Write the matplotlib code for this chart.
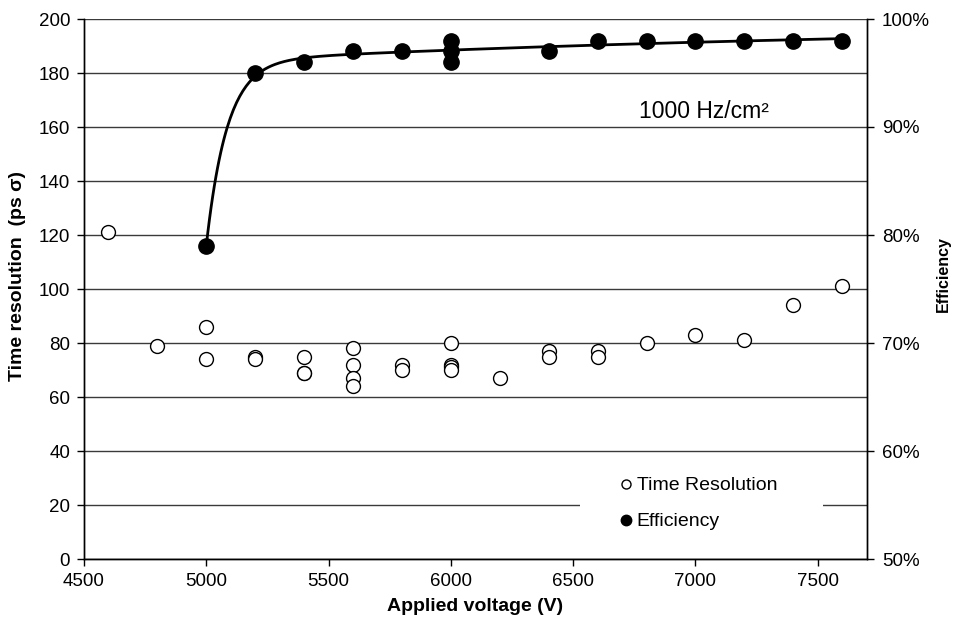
import numpy as np
import matplotlib
matplotlib.use("Agg")
import matplotlib.pyplot as plt
from matplotlib.ticker import FuncFormatter, MultipleLocator
from matplotlib.lines import Line2D
from matplotlib.patches import Rectangle

plt.rcParams['font.family'] = ['Liberation Sans', 'DejaVu Sans']

# ---- data ----
tr_voltage = [4600, 4800, 5000, 5000, 5200, 5200, 5400, 5400, 5400,
              5600, 5600, 5600, 5600, 5800, 5800, 6000, 6000, 6000, 6000,
              6200, 6400, 6400, 6600, 6600, 6800, 7000, 7200, 7400, 7600]
tr_values = [121, 79, 86, 74, 75, 74, 75, 69, 69,
             78, 72, 67, 64, 72, 70, 80, 72, 71, 70,
             67, 77, 75, 77, 75, 80, 83, 81, 94, 101]

eff_voltage = [5000, 5200, 5400, 5600, 5800, 6000, 6000, 6000,
               6400, 6600, 6800, 7000, 7200, 7400, 7600]
eff_values = [79, 95, 96, 97, 97, 98, 97, 96,
              97, 98, 98, 98, 98, 98, 98]

x_ticks = [4500, 5000, 5500, 6000, 6500, 7000, 7500]
annotation = "1000 Hz/cm\u00b2"

# ---- fitted trend line (double exponential, least squares) ----
V = np.array(eff_voltage, float)
E = np.array(eff_values, float)
v0 = min(eff_voltage)
best = None
for s1 in np.linspace(85, 300, 44):
    for s2 in np.linspace(200, 3000, 57):
        M = np.column_stack([np.ones_like(V), -np.exp(-(V - v0) / s1), -np.exp(-(V - v0) / s2)])
        coef, *_ = np.linalg.lstsq(M, E, rcond=None)
        r = np.sum((M @ coef - E) ** 2)
        if best is None or r < best[0]:
            best = (r, s1, s2, coef)
_, s1, s2, coef = best
vf = np.linspace(v0, max(eff_voltage), 400)
ef = coef[0] - coef[1] * np.exp(-(vf - v0) / s1) - coef[2] * np.exp(-(vf - v0) / s2)

# ---- figure ----
fig = plt.figure(figsize=(9.57, 6.31), dpi=100)
L, R, B, T = 84 / 957, 866.7 / 957, 1 - 559 / 631, 1 - 19 / 631
ax = fig.add_axes([L, B, R - L, T - B])
ax2 = ax.twinx()

ax.set_xlim(4500, 7700)
ax.set_ylim(0, 200)
ax2.set_ylim(50, 100)

ax.set_xticks(x_ticks)
ax.yaxis.set_major_locator(MultipleLocator(20))
ax2.yaxis.set_major_locator(MultipleLocator(10))
ax2.yaxis.set_major_formatter(FuncFormatter(lambda v, p: f"{v:.0f}%"))

ax.grid(axis='y', color='#3a3a3a', linewidth=1.0)
ax.set_axisbelow(True)

for a in (ax, ax2):
    for s in a.spines.values():
        s.set_linewidth(1.0)
        s.set_color('black')
    a.spines['top'].set_visible(False)
ax.tick_params(axis='both', direction='out', length=5, width=1, labelsize=13.5, pad=5)
ax2.tick_params(axis='y', direction='out', length=5, width=1, labelsize=13.5, pad=6)

# data
ax.plot(tr_voltage, tr_values, linestyle='none', marker='o', markersize=10,
        markerfacecolor='white', markeredgecolor='black', markeredgewidth=1.0, zorder=3)
ax2.plot(vf, ef, color='black', linewidth=2.0, zorder=3)
ax2.plot(eff_voltage, eff_values, linestyle='none', marker='o', markersize=11,
         markerfacecolor='black', markeredgecolor='black', zorder=4)

ax2.text(0.709, 0.828, annotation, transform=ax2.transAxes, fontsize=16.5,
         ha='left', va='center')

ax.set_xlabel("Applied voltage (V)", fontsize=14, fontweight='bold', labelpad=6)
fig.text(18 / 957, 1 - 276 / 631, "Time resolution  (ps \u03c3)", rotation=90,
         fontsize=14, fontweight='bold', ha='center', va='center')
fig.text(943 / 957, 1 - 274 / 631, "Efficiency", rotation=90,
         fontsize=11.5, fontweight='bold', ha='center', va='center')

# legend area (white block interrupting grid line)
ax2.add_patch(Rectangle((0.634, 0.03), 0.31, 0.14, transform=ax2.transAxes,
                        facecolor='white', edgecolor='none', zorder=2))
handles = [Line2D([], [], linestyle='none', marker='o', markersize=6.5,
                  markerfacecolor='white', markeredgecolor='black', markeredgewidth=1.0),
           Line2D([], [], linestyle='none', marker='o', markersize=7.5,
                  markerfacecolor='black', markeredgecolor='black')]
leg = ax2.legend(handles, ["Time Resolution", "Efficiency"], loc='center left',
                 bbox_to_anchor=(0.685, 0.1025), frameon=False, fontsize=14,
                 handlelength=0.6, handletextpad=0.25, labelspacing=0.95,
                 borderpad=0, borderaxespad=0)
leg.set_zorder(5)

fig.savefig("out.png", dpi=100)
